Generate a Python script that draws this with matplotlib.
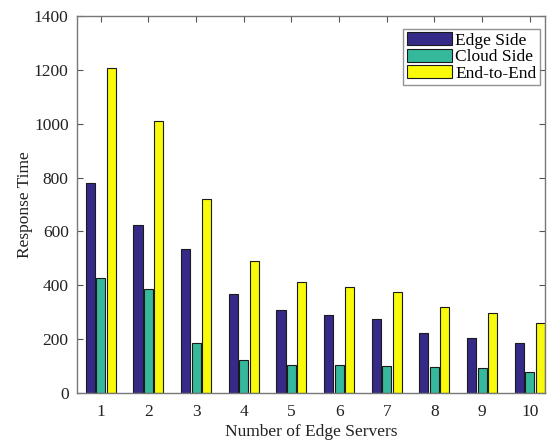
import numpy as np
import matplotlib
matplotlib.use("Agg")
import matplotlib.pyplot as plt

servers = [1, 2, 3, 4, 5, 6, 7, 8, 9, 10]
edge_side = [781, 625, 536, 369, 307, 288, 276, 223, 204, 184]
cloud_side = [427, 386, 184, 122, 104, 104, 100, 97, 93, 77]
end_to_end = [1207, 1010, 719, 490, 411, 392, 376, 318, 296, 260]
series_names = ["Edge Side", "Cloud Side", "End-to-End"]
yticks = [0, 200, 400, 600, 800, 1000, 1200, 1400]

plt.rcParams["font.family"] = ["Liberation Serif", "DejaVu Serif"]
plt.rcParams["font.size"] = 12.5

fig = plt.figure(figsize=(5.59, 4.43), dpi=100)
ax = fig.add_axes([77 / 559, 1 - 393 / 443, (545 - 77) / 559, (393 - 16) / 443])

colors = ["#352a87", "#35b89b", "#f9f90a"]
x = np.array(servers, dtype=float)
step = 0.22
width = 0.19
for i, (vals, name, c) in enumerate(zip([edge_side, cloud_side, end_to_end], series_names, colors)):
    ax.bar(x + (i - 1) * step, vals, width=width, color=c, edgecolor="#1a1a1a",
           linewidth=0.8, label=name, zorder=2)

ax.set_xlim(0.5, 10.32)
ax.set_ylim(0, 1400)
ax.set_xticks(servers)
ax.set_yticks(yticks)
ax.tick_params(direction="in", top=True, right=True, length=4, width=0.8,
               colors="#555555", labelcolor="#222222", labelsize=12.5)
ax.tick_params(axis="x", pad=8)
ax.tick_params(axis="y", pad=6)
for s in ax.spines.values():
    s.set_color("#777777")
    s.set_linewidth(1.0)

ax.set_xlabel("Number of Edge Servers", fontsize=12.5, color="#222222", labelpad=3)
ax.set_ylabel("Response Time", fontsize=12.5, color="#222222", labelpad=1)

leg = ax.legend(loc="upper right", bbox_to_anchor=(0.989, 0.9655), fontsize=12.5,
                frameon=True, fancybox=False, handlelength=2.6, handleheight=0.75,
                handletextpad=0.2, labelspacing=0.0, borderpad=0.2, borderaxespad=0.0)
leg.get_frame().set_edgecolor("#777777")
leg.get_frame().set_linewidth(1.0)

fig.savefig("out.png", dpi=100)
